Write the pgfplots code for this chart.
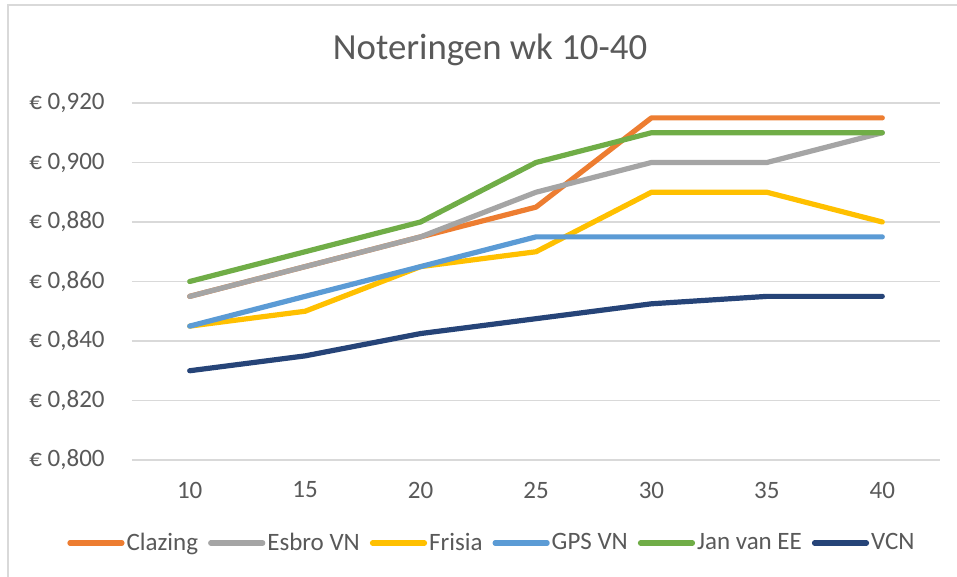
\documentclass[border=0pt]{standalone}
\usepackage{pgfplots}
\pgfplotsset{compat=1.18}
\usepackage{fontspec}
\setmainfont{Carlito}
\definecolor{cOr}{HTML}{ED7D31}
\definecolor{cGr}{HTML}{A5A5A5}
\definecolor{cGo}{HTML}{FFC000}
\definecolor{cBl}{HTML}{5B9BD5}
\definecolor{cGn}{HTML}{70AD47}
\definecolor{cNv}{HTML}{264478}
\definecolor{txt}{HTML}{595959}
\definecolor{grd}{HTML}{D9D9D9}
\begin{document}
\begin{tikzpicture}
\path[use as bounding box] (0,0) rectangle (478.5pt,288.5pt);
\fill[white] (0,0) rectangle (478.5pt,288.5pt);
\draw[grd, line width=1pt] (4pt,-2pt) -- (4pt,286pt) -- (480pt,286pt);
\node[font=\fontsize{18.4pt}{22pt}\selectfont, text=txt] at (245pt,263.5pt) {Noteringen wk 10-40};
\begin{axis}[
  at={(66pt,58.5pt)}, anchor=south west,
  scale only axis, width=404pt, height=178.5pt,
  xmin=-0.5, xmax=6.5, ymin=0.8, ymax=0.92,
  xtick={0,1,2,3,4,5,6},
  xticklabels={10,15,20,25,30,35,40},
  ytick={0.80,0.82,0.84,0.86,0.88,0.90,0.92},
  yticklabels={{€ 0,800},{€ 0,820},{€ 0,840},{€ 0,860},{€ 0,880},{€ 0,900},{€ 0,920}},
  major tick length=0pt,
  ymajorgrids, grid style={grd, line width=0.8pt},
  axis line style={draw=none},
  ticklabel style={font=\fontsize{12.5pt}{15pt}\selectfont, text=txt, inner sep=0pt},
  yticklabel style={anchor=east, xshift=-13.5pt},
  xticklabel style={anchor=center, yshift=-15pt},
  clip=false,
  every axis plot/.append style={line width=2.6pt, line join=round, line cap=round},
  legend columns=6,
  legend style={at={(0.4455,-0.2325)}, anchor=center, draw=none, fill=none,
    font=\fontsize{12.5pt}{15pt}\selectfont, text=txt,
    /tikz/every even column/.append style={column sep=4pt},
    nodes={inner sep=1pt}},
  legend image code/.code={\draw[#1, line cap=round, line width=2.6pt] (0pt,0pt) -- (26pt,0pt);},
]
\addplot[cOr] coordinates {(0,0.855) (1,0.865) (2,0.875) (3,0.885) (4,0.915) (5,0.915) (6,0.915)};
\addlegendentry{Clazing}
\addplot[cGr] coordinates {(0,0.855) (1,0.865) (2,0.875) (3,0.890) (4,0.900) (5,0.900) (6,0.910)};
\addlegendentry{Esbro VN}
\addplot[cGo] coordinates {(0,0.845) (1,0.850) (2,0.865) (3,0.870) (4,0.890) (5,0.890) (6,0.880)};
\addlegendentry{Frisia}
\addplot[cBl] coordinates {(0,0.845) (1,0.855) (2,0.865) (3,0.875) (4,0.875) (5,0.875) (6,0.875)};
\addlegendentry{GPS VN}
\addplot[cGn] coordinates {(0,0.860) (1,0.870) (2,0.880) (3,0.900) (4,0.910) (5,0.910) (6,0.910)};
\addlegendentry{Jan van EE}
\addplot[cNv] coordinates {(0,0.830) (1,0.835) (2,0.8425) (3,0.8475) (4,0.8525) (5,0.855) (6,0.855)};
\addlegendentry{VCN}
\end{axis}
\end{tikzpicture}
\end{document}
